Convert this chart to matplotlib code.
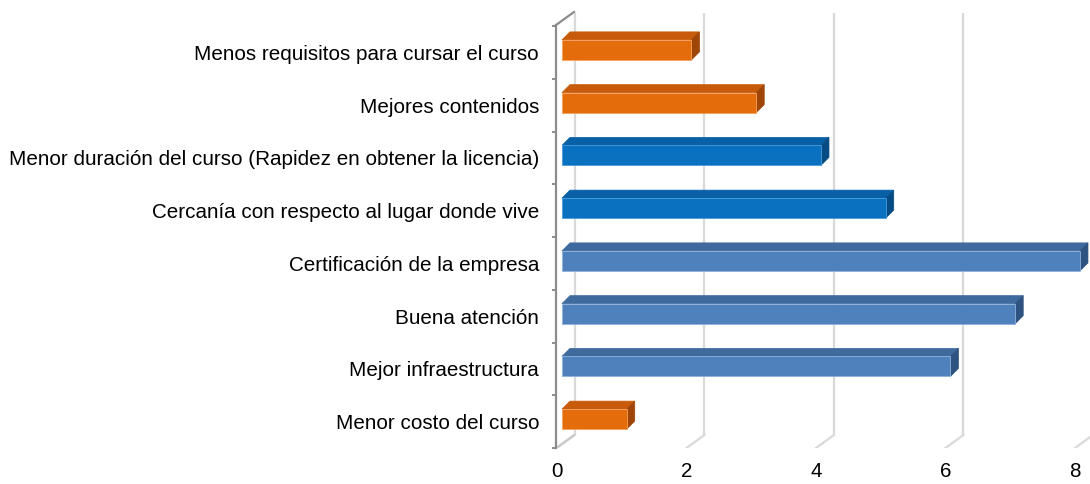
import matplotlib
matplotlib.use("Agg")
import matplotlib.pyplot as plt
from matplotlib.patches import Polygon

# ---- data (bottom to top) ----
categories = [
    "Menor costo del curso",
    "Mejor infraestructura",
    "Buena atención",
    "Certificación de la empresa",
    "Cercanía con respecto al lugar donde vive",
    "Menor duración del curso (Rapidez en obtener la licencia)",
    "Mejores contenidos",
    "Menos requisitos para cursar el curso",
]
values = [1, 6, 7, 8, 5, 4, 3, 2]
color_group = ["orange", "steel", "steel", "steel", "blue", "blue", "orange", "orange"]
xticks = [0, 2, 4, 6, 8]

palette = {
    "orange": ("#E46C0A", "#C75B0B", "#9E4507", "#F4A15F"),
    "blue": ("#0A70C0", "#0860A6", "#064C84", "#4A9ADB"),
    "steel": ("#4F81BD", "#3E6A9E", "#2F5380", "#8DB0DA"),
}

plt.rcParams["font.family"] = ["Liberation Sans", "DejaVu Sans"]

fig = plt.figure(figsize=(10.9, 4.84), dpi=100)
ax = fig.add_axes([556 / 1090, (484 - 448) / 484, 534 / 1090, 448 / 484])
ax.set_xlim(-0.015, -0.015 + 534 / 64.75)
ax.set_ylim(-0.5, -0.5 + 448 / 52.75)

# depth of the 3D box (value units / category units)
DX = 18 / 64.75
DY = 13 / 52.75
y_floor = -0.5
y_top_wall = -0.5 + (448 - 13) / 52.75

grid_c = "#D9D9D9"
for v in xticks:
    ax.plot([v + DX, v + DX], [y_floor + DY, y_top_wall], color=grid_c, lw=1.6,
            zorder=1, solid_capstyle="butt")
    ax.plot([v, v + DX], [y_floor, y_floor + DY], color=grid_c, lw=1.6, zorder=1)

# left wall front axis line with top diagonal
axis_c = "#8C8C8C"
x_ax = -0.015
y_ax_top = -0.5 + (448 - 25) / 52.75
ax.plot([x_ax, x_ax + DX], [y_ax_top, y_ax_top + DY], color=axis_c, lw=1.6, zorder=2,
        clip_on=False)
ax.plot([x_ax, x_ax + DX], [y_floor, y_floor + DY], color="#C8C8C8", lw=1.4, zorder=1)

# bars
x0 = 5 / 64.75
ft = 12.5 / 52.75     # front face top above slot center
fb = 7.5 / 52.75      # front face bottom below slot center
ddx = 8 / 64.75
ddy = 8 / 52.75
for i, (v, g) in enumerate(zip(values, color_group)):
    front, top, side, edge = palette[g]
    yt = i + ft
    yb = i - fb
    ax.barh(i + (ft - fb) / 2, v, height=ft + fb, left=x0, color=front,
            edgecolor=edge, linewidth=0.6, zorder=4)
    ax.add_patch(Polygon([(x0, yt), (x0 + v, yt), (x0 + v + ddx, yt + ddy), (x0 + ddx, yt + ddy)],
                         closed=True, facecolor=top, edgecolor=top, lw=0.5, zorder=3))
    ax.add_patch(Polygon([(x0 + v, yb), (x0 + v, yt), (x0 + v + ddx, yt + ddy), (x0 + v + ddx, yb + ddy)],
                         closed=True, facecolor=side, edgecolor=side, lw=0.5, zorder=3))

# axes styling
for s in ["top", "right", "bottom"]:
    ax.spines[s].set_visible(False)
ax.spines["left"].set_color(axis_c)
ax.spines["left"].set_linewidth(1.6)
ax.spines["left"].set_bounds(y_floor, y_ax_top)

ax.set_yticks(range(len(categories)))
ax.set_yticklabels(categories, fontsize=14.9)
ax.set_yticks([k - 0.5 for k in range(len(categories) + 1)], minor=True)
ax.tick_params(axis="y", which="major", length=0, pad=12.2)
ax.tick_params(axis="y", which="minor", length=3, width=1.4, color=axis_c)

ax.set_xticks(xticks)
ax.set_xticklabels([str(t) for t in xticks], fontsize=14.9)
ax.tick_params(axis="x", length=0, pad=10.3)

fig.savefig("out.png", dpi=100)
